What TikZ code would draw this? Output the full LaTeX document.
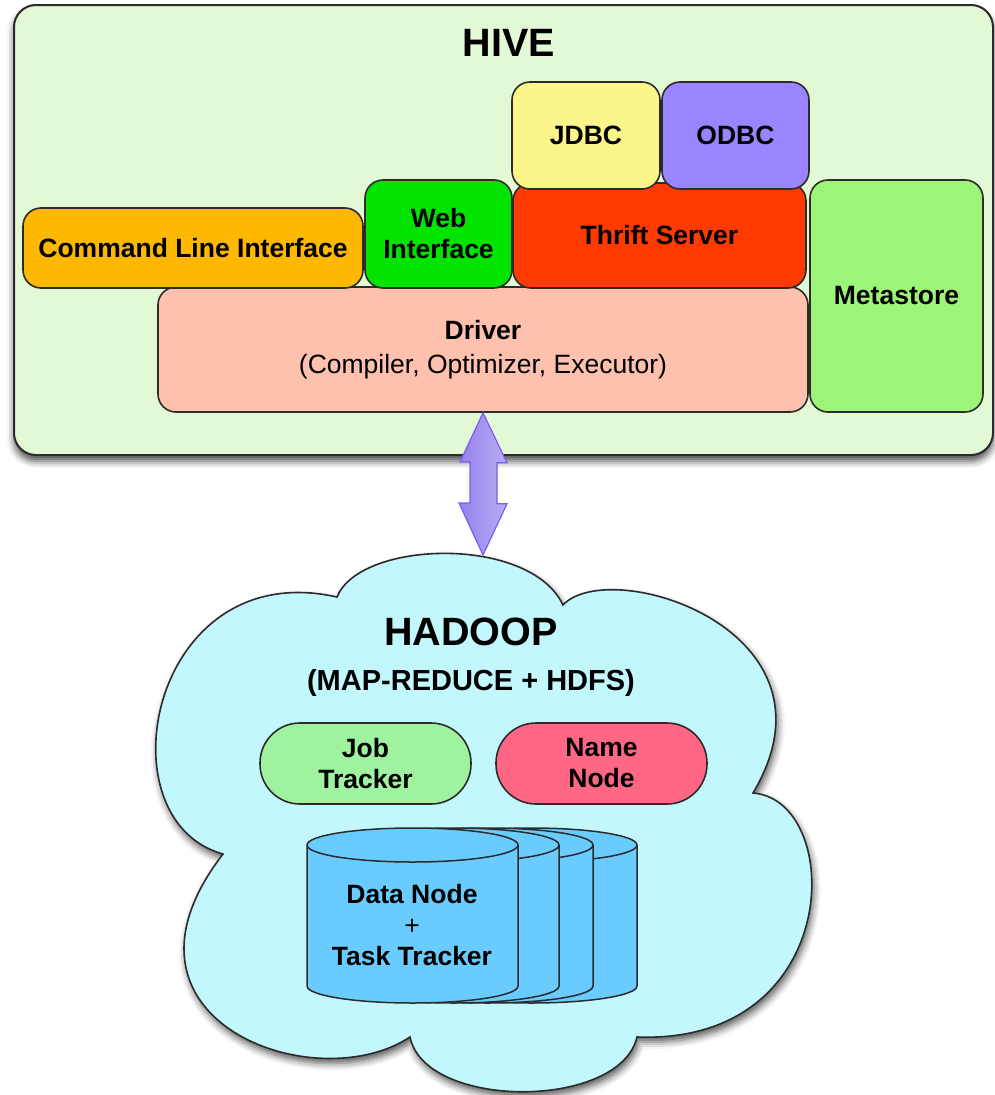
\documentclass[tikz,border=0pt]{standalone}
\usepackage{fontspec}
\setmainfont{Liberation Sans}
\usetikzlibrary{shadows.blur,calc}

\definecolor{hivebg}{HTML}{E3F8D4}
\definecolor{clicol}{HTML}{FFB800}
\definecolor{webcol}{HTML}{00E400}
\definecolor{thriftcol}{HTML}{FF3A00}
\definecolor{jdbccol}{HTML}{FBF58A}
\definecolor{odbccol}{HTML}{9B84FF}
\definecolor{drivercol}{HTML}{FEC1AE}
\definecolor{metacol}{HTML}{9DF577}
\definecolor{cloudcol}{HTML}{C2F8FD}
\definecolor{jobcol}{HTML}{A0F39E}
\definecolor{namecol}{HTML}{FF6784}
\definecolor{cylcol}{HTML}{6ACBFF}
\definecolor{edgecol}{HTML}{2B2B2B}
\definecolor{arrowedge}{HTML}{7B5CF2}
\definecolor{arrowleft}{HTML}{9481EC}
\definecolor{arrowright}{HTML}{B9ACF6}

\newcommand\bxfont{\fontsize{26.5}{31}\selectfont\bfseries}
\newcommand\ttlfont{\fontsize{39.5}{44}\selectfont\bfseries}

\tikzset{
  box/.style={draw=edgecol, line width=1.6pt, rounded corners=18pt, inner sep=0pt,
    align=center, font=\bxfont, text=black},
  pill/.style={box, rounded corners=40pt, minimum width=211pt, minimum height=81pt},
  titletext/.style={inner sep=0pt, font=\ttlfont, text=black},
  cloudshape/.style={fill=cloudcol, draw=edgecol, line width=1.6pt,
    blur shadow={shadow xshift=2pt, shadow yshift=-5pt, shadow blur radius=7pt, shadow opacity=65}},
  cylfill/.style={fill=cylcol, draw=edgecol, line width=1.5pt},
  cyledge/.style={draw=edgecol, line width=1.5pt},
  linkarrow/.style={draw=arrowedge, line width=1.2pt, left color=arrowleft, right color=arrowright,
    line join=miter},
}

\newcommand\drawcyl[1]{%
  \begin{scope}[shift={(#1,0)}]
    \path[cylfill] (-105.5,845) -- (-105.5,986)
      arc[start angle=180,end angle=360,x radius=105.5pt,y radius=17pt]
      -- (105.5,845)
      arc[start angle=0,end angle=180,x radius=105.5pt,y radius=17pt] -- cycle;
    \draw[cyledge] (-105.5,845) arc[start angle=180,end angle=360,x radius=105.5pt,y radius=17pt];
  \end{scope}}

\begin{document}
\begin{tikzpicture}[x=1pt,y=-1pt]
\useasboundingbox (0,0) rectangle (995,1095);

% HIVE container
\node[box, fill=hivebg, rounded corners=22pt, line width=2pt, minimum width=979pt, minimum height=450pt,
  blur shadow={shadow xshift=0pt, shadow yshift=-6pt, shadow blur radius=7pt, shadow opacity=70}]
  (hive) at (503.5,230) {};
\node[titletext] (hivetitle) at (509,42.5) {HIVE};

% components
\node[box, fill=drivercol, minimum width=650pt, minimum height=125pt] (driver) at (483,349.5)
  {Driver\\[3pt]{\mdseries (Compiler, Optimizer, Executor)}};
\node[box, fill=clicol, minimum width=340pt, minimum height=80pt] (cli) at (193,248) {Command Line Interface};
\node[box, fill=webcol, minimum width=147pt, minimum height=108pt] (web) at (438.5,234) {Web\\Interface};
\node[box, fill=thriftcol, minimum width=293pt, minimum height=105pt] (thrift) at (659.5,235.5) {Thrift Server};
\node[box, fill=jdbccol, minimum width=148pt, minimum height=107pt] (jdbc) at (586,135.5) {JDBC};
\node[box, fill=odbccol, minimum width=147pt, minimum height=107pt] (odbc) at (735.5,135.5) {ODBC};
\node[box, fill=metacol, minimum width=173pt, minimum height=232pt] (meta) at (896.5,296) {Metastore};

% HADOOP cloud
\coordinate (ctop) at (483,555);
\path[cloudshape] (337,597) .. controls (360,540) and (530,535) .. (563,605)
  .. controls (610,555) and (850,630) .. (753,793)
  .. controls (845,800) and (845,1045) .. (637,1037)
  .. controls (620,1110) and (425,1110) .. (410,1037)
  .. controls (315,1100) and (95,1020) .. (223,854)
  .. controls (100,820) and (150,555) .. (337,597) -- cycle;

% double arrow between driver and cloud
\path[linkarrow] (driver.south) -- ++(24,50) -- ++(-10,0) -- ++(0,41) -- ++(10,0)
  -- (ctop) -- ++(-24,-52) -- ++(11,0) -- ++(0,-41) -- ++(-10,0) -- cycle;

\node[titletext] (hadooptitle) at (471,632) {HADOOP};
\node[inner sep=0pt, font=\fontsize{29}{34}\selectfont\bfseries, anchor=base] (hadoopsub) at (471,690) {(MAP-REDUCE + HDFS)};

\node[pill, fill=jobcol] (job) at (365.5,763.5) {Job\\Tracker};
\node[pill, fill=namecol] (namenode) at (601.5,763.5) {Name\\Node};

% data node cylinders
\drawcyl{531.5}
\drawcyl{487.5}
\drawcyl{453.5}
\drawcyl{412.5}
\node[inner sep=0pt, align=center, font=\bxfont] (datanode) at (412,925) {Data Node\\{\mdseries +}\\Task Tracker};

\end{tikzpicture}
\end{document}
